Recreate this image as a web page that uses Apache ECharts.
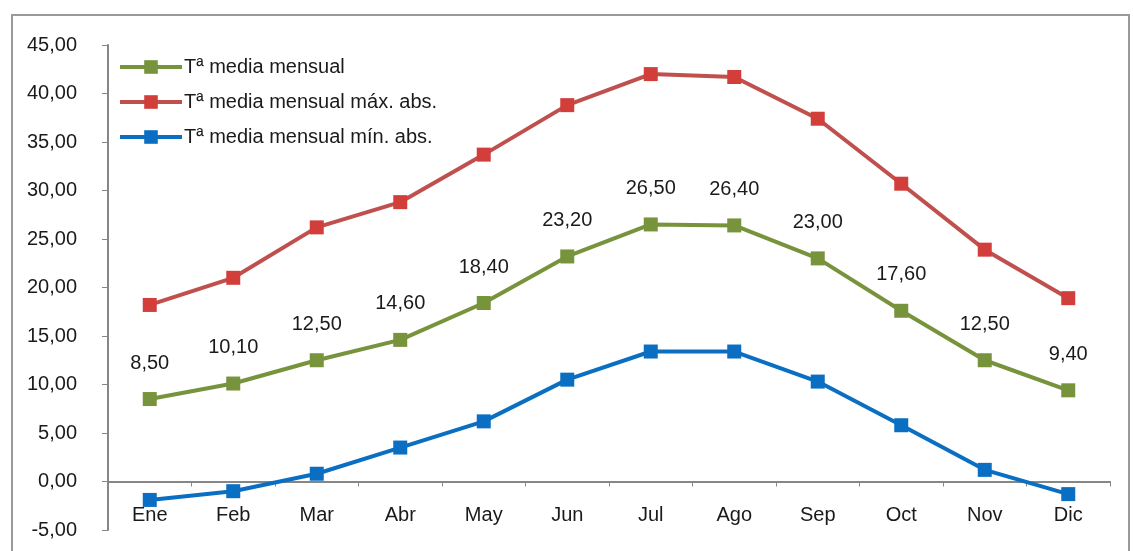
<!DOCTYPE html>
<html>
<head>
<meta charset="utf-8">
<script src="https://cdn.jsdelivr.net/npm/echarts@6/dist/echarts.min.js"></script>
<style>
  html, body { margin: 0; padding: 0; background: #ffffff; }
  #chart { width: 1133px; height: 551px; }
</style>
</head>
<body>
<div id="chart"></div>
<script>
// Monthly temperatures (°C)
const months = ['Ene', 'Feb', 'Mar', 'Abr', 'May', 'Jun', 'Jul', 'Ago', 'Sep', 'Oct', 'Nov', 'Dic'];
const tMedia = [8.5, 10.1, 12.5, 14.6, 18.4, 23.2, 26.5, 26.4, 23.0, 17.6, 12.5, 9.4];
const tMaxAbs = [18.2, 21.0, 26.2, 28.8, 33.7, 38.8, 42.0, 41.7, 37.4, 30.7, 23.9, 18.9];
const tMinAbs = [-1.9, -1.0, 0.8, 3.5, 6.2, 10.5, 13.4, 13.4, 10.3, 5.8, 1.2, -1.3];
const seriesNames = ['Tª media mensual', 'Tª media mensual máx. abs.', 'Tª media mensual mín. abs.'];

const FONT = "'Liberation Sans', Arial, sans-serif";
const fmt = v => Number(v).toFixed(2).replace('.', ',');

const chart = echarts.init(document.getElementById('chart'), null, { renderer: 'canvas' });

chart.setOption({
  backgroundColor: '#ffffff',
  animation: false,
  textStyle: { fontFamily: FONT },
  graphic: [
    {
      type: 'rect',
      shape: { x: 12, y: 15, width: 1117, height: 560 },
      style: { fill: 'none', stroke: '#9a9a9a', lineWidth: 2 },
      silent: true
    }
  ],
  legend: {
    orient: 'vertical',
    left: 113,
    top: 52,
    itemWidth: 62,
    itemHeight: 17,
    itemGap: 15,
    lineStyle: { width: 4 },
    textStyle: { fontFamily: FONT, fontSize: 20, color: '#1a1a1a', lineHeight: 20, padding: [0, 0, 0, -3] },
    data: seriesNames
  },
  grid: { left: 108, right: 23, top: 45, bottom: 21, outerBoundsMode: 'none', containLabel: false },
  xAxis: {
    type: 'category',
    data: months,
    boundaryGap: true,
    axisLine: { onZero: true, lineStyle: { color: '#868686', width: 2 } },
    axisTick: { show: true, length: 5, lineStyle: { color: '#868686', width: 1 } },
    axisLabel: { margin: -25, fontSize: 20, color: '#1a1a1a', fontFamily: FONT }
  },
  yAxis: {
    type: 'value',
    min: -5,
    max: 45,
    interval: 5,
    splitLine: { show: false },
    axisLine: { show: true, lineStyle: { color: '#868686', width: 2 } },
    axisTick: { show: true, length: 6, lineStyle: { color: '#868686', width: 1 } },
    axisLabel: { margin: 31, fontSize: 20, color: '#1a1a1a', fontFamily: FONT, formatter: fmt }
  },
  series: [
    {
      name: seriesNames[0],
      type: 'line',
      data: tMedia,
      symbol: 'rect',
      symbolSize: 14,
      color: '#77933C',
      lineStyle: { width: 4, color: '#77933C' },
      itemStyle: { color: '#77933C' },
      label: {
        show: true,
        position: 'top',
        distance: 19,
        fontSize: 20,
        color: '#1a1a1a',
        fontFamily: FONT,
        formatter: p => fmt(p.value)
      },
      z: 3
    },
    {
      name: seriesNames[1],
      type: 'line',
      data: tMaxAbs,
      symbol: 'rect',
      symbolSize: 14,
      color: '#C8453F',
      lineStyle: { width: 4, color: '#C0504D' },
      itemStyle: { color: '#D23F3B' },
      z: 2
    },
    {
      name: seriesNames[2],
      type: 'line',
      data: tMinAbs,
      symbol: 'rect',
      symbolSize: 14,
      color: '#0A6FC2',
      lineStyle: { width: 4, color: '#0A6FC2' },
      itemStyle: { color: '#0A6FC2' },
      z: 4
    }
  ]
});
</script>
</body>
</html>
